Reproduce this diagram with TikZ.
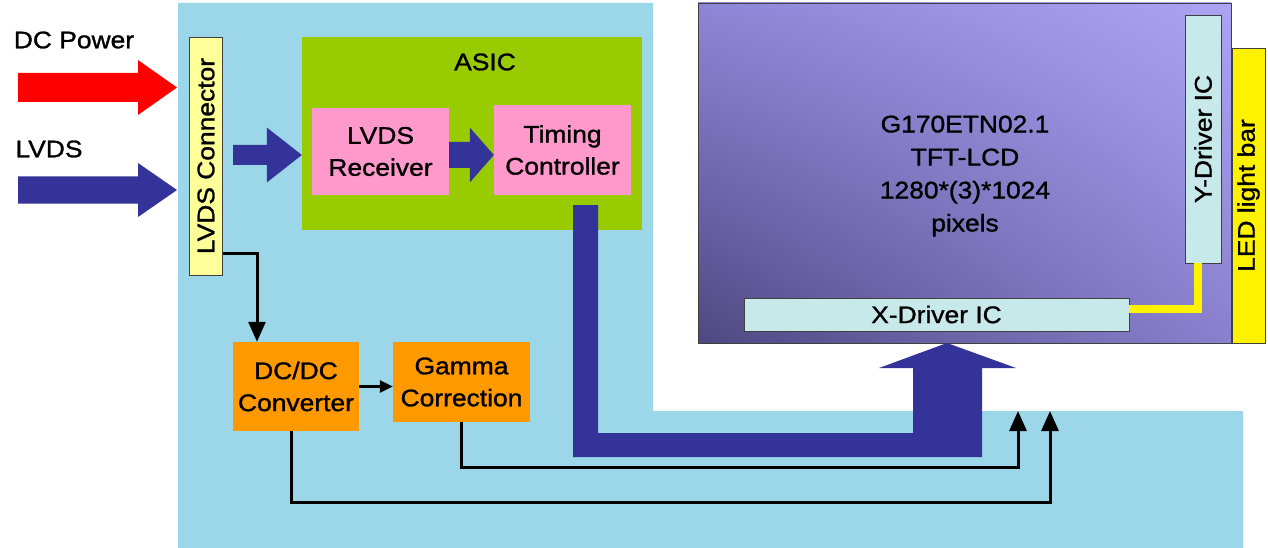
\documentclass[tikz,border=0pt]{standalone}
\usepackage{fontspec}
\setmainfont{Liberation Sans}[FakeStretch=1.1,FakeBold=1.2]
\usepackage{tikz}
\usetikzlibrary{positioning}
\usetikzlibrary{arrows.meta}
\usetikzlibrary{calc}
\usetikzlibrary{shadings}

\definecolor{boardblue}{HTML}{9BD7E8}
\definecolor{asicgreen}{HTML}{99CC00}
\definecolor{chippink}{HTML}{FF99CC}
\definecolor{powerorange}{HTML}{FF9900}
\definecolor{busblue}{HTML}{333399}
\definecolor{connyellow}{HTML}{FFFF99}
\definecolor{drvcyan}{HTML}{C8E9EA}
\definecolor{lcdul}{RGB}{142,134,214}
\definecolor{lcdur}{RGB}{172,163,243}
\definecolor{lcdll}{RGB}{78,72,130}
\definecolor{lcdlr}{RGB}{138,128,206}

% fat arrow pointing right: from, to, colour, shaft half, head half, head length
\newcommand{\fatarrow}[6]{%
\fill[#3] ($(#1)+(0,-#4)$) -- ($(#2)+(-#6,-#4)$) -- ($(#2)+(-#6,-#5)$) -- (#2)
  -- ($(#2)+(-#6,#5)$) -- ($(#2)+(-#6,#4)$) -- ($(#1)+(0,#4)$) -- cycle;}

\begin{document}
\begin{tikzpicture}[x=1pt,y=-1pt,
  txt/.style={font=\fontsize{24}{32}\selectfont, align=center, inner sep=0pt},
  box/.style={txt, rectangle},
  edge/.style={draw=black!75, line width=0.8pt},
  sig/.style={line width=3pt, -{Triangle[length=20pt,width=17pt]}},
  shortsig/.style={line width=3pt, -{Triangle[length=13pt,width=12pt]}}]
\useasboundingbox (0,0) rectangle (1268,548);

\fill[boardblue] (178,3) -- (653,3) -- (653,411) -- (1243,411) -- (1243,548) -- (178,548) -- cycle;

\node[txt] (pwrlbl) at (74,40) {DC Power};
\node[txt] (lvdslbl) at (49,149) {LVDS};

\node[box, fill=asicgreen, minimum width=340pt, minimum height=193pt] (asic) at (472,133.5) {};
\node[txt] (asiclbl) at (485,62) {ASIC};
\node[box, fill=chippink, minimum width=137pt, minimum height=87pt] (rcv) at (380.5,151.5) {LVDS\\Receiver};
\node[box, fill=chippink, minimum width=137pt, minimum height=90pt] (tcon) at (562.5,150) {Timing\\Controller};

\node[box, edge, fill=connyellow, minimum width=238pt, minimum height=33pt, rotate=90] (conn) at (206,156) {LVDS Connector};

\node[box, fill=powerorange, minimum width=126pt, minimum height=89pt] (dcdc) at (296,386.5) {DC/DC\\Converter};
\node[box, fill=powerorange, minimum width=137pt, minimum height=80pt] (gamma) at (461.5,382) {Gamma\\Correction};

\node[box, edge, upper left=lcdul, upper right=lcdur, lower left=lcdll, lower right=lcdlr,
  minimum width=533pt, minimum height=340pt] (lcd) at (964.5,173) {};
\node[txt, font=\fontsize{24}{33}\selectfont] (lcdtxt) at (965,176) {G170ETN02.1\\TFT-LCD\\1280*(3)*1024\\pixels};
\node[box, edge, fill=drvcyan, minimum width=385pt, minimum height=33pt] (xdrv) at (936.5,314.5) {X-Driver IC};
\node[box, edge, fill=drvcyan, minimum width=248pt, minimum height=36pt, rotate=90] (ydrv) at (1203,139) {Y-Driver IC};
\node[box, edge, fill=yellow, minimum width=295pt, minimum height=33pt, rotate=90] (led) at (1248.5,195.5) {LED light bar};

\draw[yellow, line width=8pt] ([yshift=5.5pt]xdrv.east) -| ([xshift=-5.5pt]ydrv.west);

\coordinate (pwrin) at (18,87.5);
\coordinate (pwrtip) at (177,87.5);
\coordinate (lvdsin) at (18,190);
\coordinate (lvdstip) at (177,190);
\coordinate (c2a) at (233,155);
\coordinate (r2t) at ($(rcv.east)+(0,3.5)$);

\fatarrow{pwrin}{pwrtip}{red}{14.5}{27.5}{39}
\fatarrow{lvdsin}{lvdstip}{busblue}{13.5}{27}{39}
\fatarrow{c2a}{asic.west |- c2a}{busblue}{10}{27.5}{35}
\fatarrow{r2t}{tcon.west |- r2t}{busblue}{13}{27.5}{24}

\coordinate (busin) at (573,205);
\coordinate (busout) at (947,343);
\fill[busblue] (busin) -- ++(25,0) -- ++(0,228) -- ++(315,0) -- ++(0,-65) -- ++(-34,0) -- (busout)
  -- ++(69,25) -- ++(-34,0) -- ++(0,89) -- ++(-409,0) -- cycle;

\coordinate (gin) at (1018,411);
\coordinate (din) at (1050,411);
\draw[sig] ($(conn.south)+(0,97)$) -| ([xshift=-39pt]dcdc.north);
\draw[shortsig] (dcdc.east) -- (dcdc.east -| gamma.west);
\draw[sig] (gamma.south) |- ($(gin)+(0,56)$) -- (gin);
\draw[sig] ([xshift=-5pt]dcdc.south) |- ($(din)+(0,91)$) -- (din);
\end{tikzpicture}
\end{document}
